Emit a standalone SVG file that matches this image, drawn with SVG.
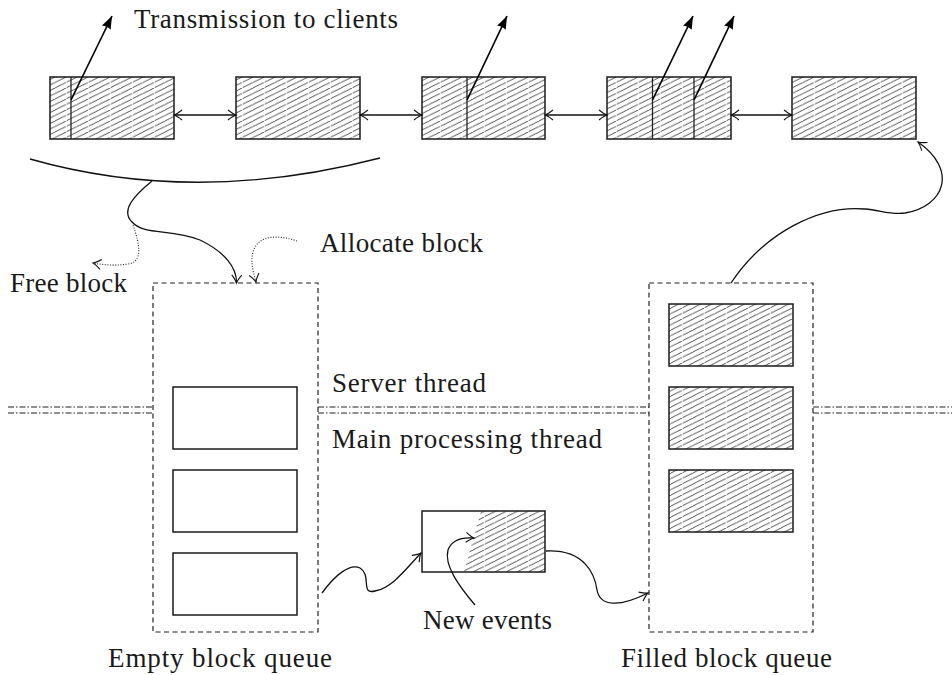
<svg xmlns="http://www.w3.org/2000/svg" width="952" height="675" viewBox="0 0 952 675">
  <style>
    .lbl { font-family: "Liberation Serif", "Times New Roman", "DejaVu Serif", serif; font-size: 27px; fill: #1a1a1a; }
    .blk { stroke: #1a1a1a; stroke-width: 1.5; }
    .hat { fill: url(#hatch); }
    .div { stroke: #222; stroke-width: 1.3; }
    .queue { fill: none; stroke: #222; stroke-width: 1.2; stroke-dasharray: 5 3.5; }
    .thread { fill: none; stroke: #222; stroke-width: 1.2; stroke-dasharray: 6 2 1.5 2; }
    .conn { fill: none; stroke: #111; stroke-width: 1.3; }
    .dot { fill: none; stroke: #222; stroke-width: 1.1; stroke-dasharray: 1 1.6; }
    .tx { fill: none; stroke: #000; stroke-width: 1.7; marker-end: url(#latex); }
  </style>
  <defs>
    <!-- diagonal hatching with a thin break every 22px -->
    <pattern id="hatch" patternUnits="userSpaceOnUse" width="22" height="5.5">
      <rect width="22" height="5.5" fill="#fff"/>
      <path d="M-11,5.5 L11,-5.5 M0,5.5 L11,0 L22,-5.5 M11,5.5 L22,0 L33,-5.5 M22,5.5 L33,0" stroke="#3a3a3a" stroke-width="0.9" fill="none"/>
      <rect x="0" y="0" width="0.8" height="5.5" fill="#fff" opacity="0.8"/>
    </pattern>
    <marker id="to" markerUnits="userSpaceOnUse" markerWidth="14" markerHeight="14" refX="0" refY="0" viewBox="-10 -7 12 14" orient="auto-start-reverse">
      <path d="M-8,-5 Q-3,-1 0,0 Q-3,1 -8,5" fill="none" stroke="#111" stroke-width="1.1"/>
    </marker>
    <marker id="latex" markerUnits="userSpaceOnUse" markerWidth="16" markerHeight="12" refX="0" refY="0" viewBox="-14 -6 15 12" orient="auto">
      <path d="M0,0 L-13,-4.8 Q-11,0 -13,4.8 Z" fill="#000"/>
    </marker>
  </defs>

  <!-- linked list of blocks on the server side -->
  <g id="list-block-1">
    <rect class="blk hat" x="50" y="77" width="124" height="62"/>
    <line class="div" x1="71" y1="77" x2="71" y2="139"/>
  </g>
  <g id="list-block-2">
    <rect class="blk hat" x="236" y="77" width="124" height="62"/>
  </g>
  <g id="list-block-3">
    <rect class="blk hat" x="422" y="77" width="123" height="62"/>
    <line class="div" x1="467" y1="77" x2="467" y2="139"/>
  </g>
  <g id="list-block-4">
    <rect class="blk hat" x="607" y="77" width="124" height="62"/>
    <line class="div" x1="652.5" y1="77" x2="652.5" y2="139"/>
    <line class="div" x1="694" y1="77" x2="694" y2="139"/>
  </g>
  <g id="list-block-5">
    <rect class="blk hat" x="792" y="77" width="124" height="62"/>
  </g>

  <!-- queues -->
  <g id="empty-queue">
    <rect class="queue" x="153" y="283" width="165" height="349"/>
    <rect class="blk" fill="#fff" x="173" y="387" width="124" height="62"/>
    <rect class="blk" fill="#fff" x="173" y="470" width="124" height="62"/>
    <rect class="blk" fill="#fff" x="173" y="553" width="124" height="62"/>
  </g>
  <g id="filled-queue">
    <rect class="queue" x="649" y="283" width="164" height="349"/>
    <rect class="blk hat" x="669" y="304" width="124" height="62"/>
    <rect class="blk hat" x="669" y="387" width="124" height="62"/>
    <rect class="blk hat" x="669" y="470" width="124" height="62"/>
  </g>

  <!-- block being filled with new events -->
  <g id="current-block">
    <polygon fill="url(#hatch)" points="481,511 545,511 545,572 464,572"/>
    <rect class="blk" fill="none" x="422" y="511" width="123" height="61"/>
  </g>

  <!-- thread boundary -->
  <g id="thread-boundary">
    <path class="thread" d="M8,407 H153 M8,413 H153"/>
    <path class="thread" d="M318,407 H649 M318,413 H649"/>
    <path class="thread" d="M813,407 H952 M813,413 H952"/>
  </g>

  <!-- connectors -->
  <g id="connectors">
    <path class="conn" marker-start="url(#to)" marker-end="url(#to)" d="M174,115 H236"/>
    <path class="conn" marker-start="url(#to)" marker-end="url(#to)" d="M360,115 H422"/>
    <path class="conn" marker-start="url(#to)" marker-end="url(#to)" d="M545,115 H607"/>
    <path class="conn" marker-start="url(#to)" marker-end="url(#to)" d="M731,115 H792"/>

    <path class="tx" d="M71,100 L112,16"/>
    <path class="tx" d="M467,100 L507,16"/>
    <path class="tx" d="M652.5,100 L693,16"/>
    <path class="tx" d="M694,100 L734,16"/>

    <path class="conn" d="M30,159 Q195,206 380,158"/>
    <path class="conn" marker-end="url(#to)" d="M152,181 C135,195 120,210 132,222 C145,236 170,228 200,240 C225,252 237,268 236.5,283"/>
    <path class="dot" marker-end="url(#to)" d="M133,225 C140,245 143,262 128,264 C115,266 104,265 93,263"/>
    <path class="dot" marker-end="url(#to)" d="M297,241 C280,235 258,234 253,252 C250,263 254,274 256,282"/>

    <path class="conn" marker-end="url(#to)" d="M322,593 C335,575 350,563 360,568 C372,575 360,595 375,591 C392,588 405,570 421,553"/>
    <path class="conn" marker-end="url(#to)" d="M475,605 C458,585 444,565 448,550 C452,539 462,537 474,538"/>
    <path class="conn" marker-end="url(#to)" d="M546,551 C585,549 595,575 597,590 C600,606 618,608 648,593"/>
    <path class="conn" marker-end="url(#to)" d="M731,283 C765,232 820,205 865,209 C880,210 890,215 905,213 C945,206 958,170 918,142"/>
  </g>

  <!-- labels -->
  <g id="labels" font-family="'Liberation Serif', 'Times New Roman', serif">
    <text class="lbl" x="134" y="28" textLength="264">Transmission to clients</text>
    <text class="lbl" x="320" y="252" textLength="163">Allocate block</text>
    <text class="lbl" x="10" y="292" textLength="117">Free block</text>
    <text class="lbl" x="332" y="392" textLength="154">Server thread</text>
    <text class="lbl" x="332" y="448" textLength="270">Main processing thread</text>
    <text class="lbl" x="423" y="629" textLength="129">New events</text>
    <text class="lbl" x="108" y="667" textLength="224">Empty block queue</text>
    <text class="lbl" x="621" y="667" textLength="211">Filled block queue</text>
  </g>
</svg>
